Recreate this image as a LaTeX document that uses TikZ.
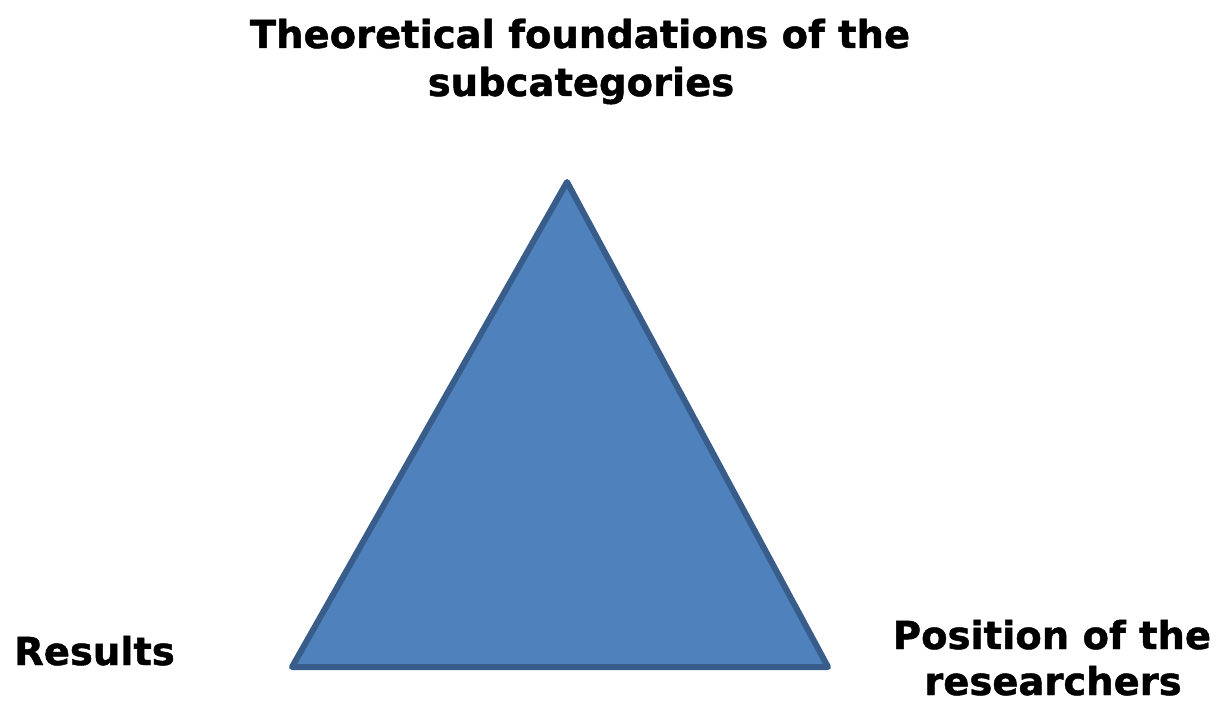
\documentclass[tikz,border=0pt]{standalone}
\usepackage{fontspec}
\setmainfont{DejaVu Sans}
\newfontfamily\lblfont{DejaVu Sans Bold}[FakeBold=1.2]
\tikzset{
  lbl/.style={font=\fontsize{38.5}{48}\selectfont\lblfont, align=center, inner sep=0pt, text=black, text depth=0pt},
  tri/.style={fill=triFill, draw=triLine, line width=6pt, line join=round}
}
\definecolor{triFill}{HTML}{4F81BD}
\definecolor{triLine}{HTML}{385D8A}
\begin{document}
\begin{tikzpicture}[x=1pt,y=1pt]
\useasboundingbox (0,0) rectangle (1217,702);
\coordinate (apex) at (567,520);
\coordinate (bl) at (292,35);
\coordinate (br) at (828,35);
\draw[tri] (apex) -- (bl) -- (br) -- cycle;
\node[lbl, anchor=base] (top1) at (580,654) {Theoretical foundations of the};
\node[lbl, anchor=base] (top2) at (581,606) {subcategories};
\node[lbl, anchor=base] (res) at (94.5,37) {Results};
\node[lbl, anchor=base] (pos1) at (1052,53) {Position of the};
\node[lbl, anchor=base] (pos2) at (1053,7) {researchers};
\end{tikzpicture}
\end{document}
